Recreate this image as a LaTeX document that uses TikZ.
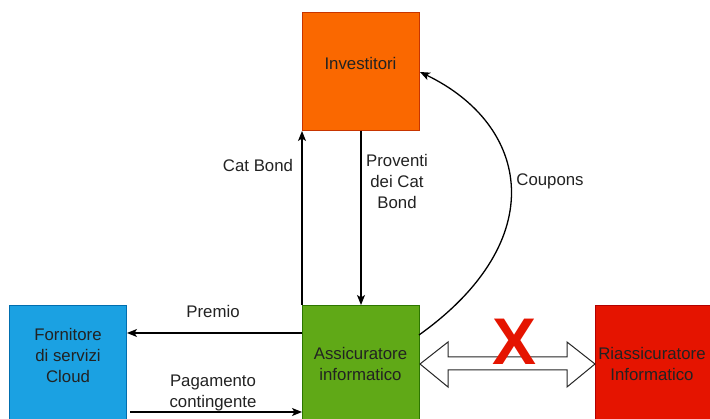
\documentclass[tikz,border=0pt]{standalone}
\usepackage{fontspec}
\setmainfont{Liberation Sans}
\usetikzlibrary{arrows.meta,calc}
\definecolor{orangeF}{HTML}{FA6800}\definecolor{orangeD}{HTML}{C73500}
\definecolor{greenF}{HTML}{60A917}\definecolor{greenD}{HTML}{2D7600}
\definecolor{blueF}{HTML}{1BA1E2}\definecolor{blueD}{HTML}{006EAF}
\definecolor{redF}{HTML}{E51400}\definecolor{redD}{HTML}{B20000}
\definecolor{txt}{HTML}{222222}
\tikzset{
  box/.style={draw, line width=1pt, minimum width=117pt, minimum height=118pt, anchor=north west, inner sep=0pt},
  lbl/.style={text=txt, font=\fontsize{16.8}{21}\selectfont, align=center, inner sep=0pt},
  flow/.style={draw=black, line width=1.3pt, -{Stealth[length=10pt,width=8pt,inset=2.5pt]}},
}
\begin{document}
\begin{tikzpicture}[x=1pt,y=-1pt]
\clip (0,0) rectangle (710,419);
\fill[white] (0,0) rectangle (710,419);
% boxes
\node[box, fill=orangeF, draw=orangeD] (inv) at (302,12) {};
\node[box, fill=greenF, draw=greenD] (ass) at (302,305) {};
\node[box, fill=blueF, draw=blueD] (forn) at (9,305) {};
\node[box, fill=redF, draw=redD] (ria) at (595,305) {};
% box texts
\node[lbl] (tinv) at (360.5,63) {Investitori};
\node[lbl] (tass) at (360.5,363.5) {Assicuratore\\informatico};
\node[lbl] (tforn) at (68,355) {Fornitore\\di servizi\\Cloud};
\node[lbl] (tria) at (652,363.5) {Riassicuratore\\Informatico};
% vertical arrows
\draw[flow] (ass.north west) -- (inv.south west);
\draw[flow] (inv.south) -- (ass.north);
\node[lbl] (lcat) at (258,165) {Cat Bond};
\node[lbl] (lprov) at (397,181) {Proventi\\dei Cat\\Bond};
% coupons curve
\coordinate (cs) at (419,335);
\coordinate (ce) at (420,72);
\draw[flow] (cs) .. controls (552,240) and (530,125) .. (ce);
\node[lbl] (lcoup) at (550,181) {Coupons};
% horizontal arrows
\coordinate (p1) at (302,333);
\draw[flow] (p1) -- (forn.east |- p1);
\node[lbl] (lprem) at (213,311) {Premio};
\coordinate (q1) at (130,412);
\draw[flow] (q1) -- (ass.west |- q1);
\node[lbl] (lpag) at (213,393) {Pagamento\\contingente};
% double block arrow
\draw[draw=black!85, line width=1pt, fill=white, line join=miter]
  (420,364) -- (448,342) -- (448,357) -- (567,357) -- (567,342) -- (595,364)
  -- (567,387) -- (567,370) -- (448,370) -- (448,387) -- cycle;
\node[text=redF, font=\fontsize{66}{66}\bfseries\selectfont, inner sep=0pt] (xmark) at (514.5,341.5) {X};
\end{tikzpicture}
\end{document}
